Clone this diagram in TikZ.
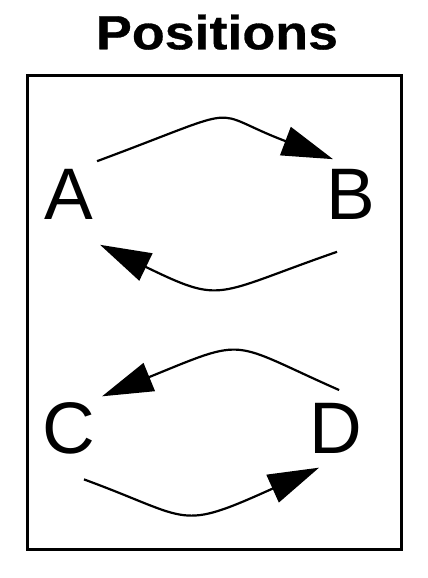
\documentclass[tikz,border=0pt]{standalone}
\usepackage{fontspec}
\setmainfont{Liberation Sans}
\newfontfamily\titlefont{Liberation Sans}[FakeStretch=1.12,FakeBold=0.6]
\usetikzlibrary{arrows.meta,positioning}

\begin{document}
\begin{tikzpicture}[x=1pt,y=1pt,
        letter/.style={inner sep=0pt,font=\fontsize{73}{73}\selectfont},
        frame/.style={draw,line width=3pt,inner sep=0pt},
        edge/.style={line width=2.2pt,-{Triangle[length=51pt,width=30pt]}}]
        \useasboundingbox (0,0) rectangle (428,578);
        \node[anchor=base,font=\titlefont\bfseries\fontsize{48}{48}\selectfont] (title) at (217,528.7) {Positions};
        \node[frame,minimum width=374pt,minimum height=474pt] (box) at (214,265) {};

        \node[letter] (A) at (68.5,383.5) {A};
        \node[letter] (B) [right=233pt of A] {B};
        \node[letter] (C) [below=183pt of A] {C};
        \node[letter] (D) [right=214pt of C] {D};

        \draw[edge] ([shift={(4,8)}]A.north east) .. controls +(156,58) and +(-129,49) .. ([shift={(7,10)}]B.north west);
        \draw[edge] ([shift={(11,-32)}]B.south west) .. controls +(-124,-43) and +(124,-60) .. ([shift={(7,-25)}]A.south east);
        \draw[edge] ([shift={(3.5,13.5)}]D.north) .. controls +(-111,49) and +(147,60) .. ([shift={(7,6.5)}]C.north east);
        \draw[edge] ([shift={(15.5,-24.5)}]C.south) .. controls +(109,-40) and +(-142,-64) .. ([shift={(10,-13.5)}]D.south west);
    \end{tikzpicture}
\end{document}
